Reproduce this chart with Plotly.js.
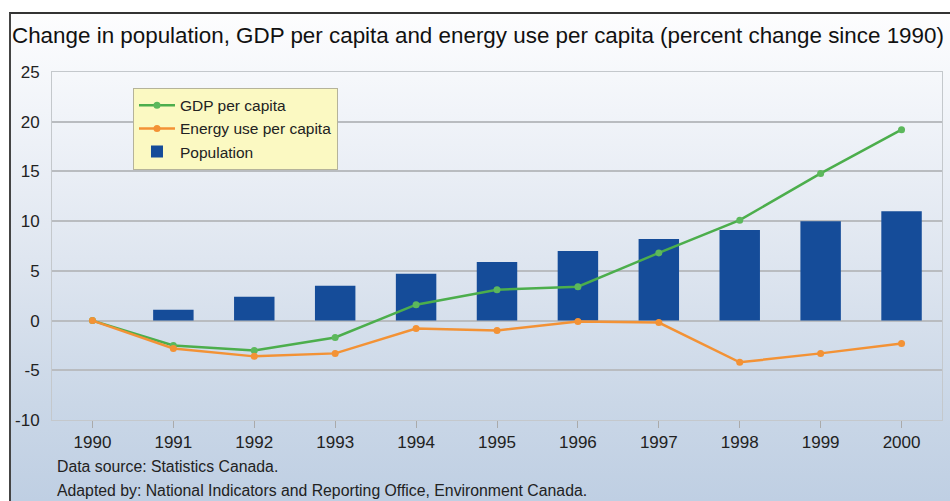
<!DOCTYPE html>
<html>
<head>
<meta charset="utf-8">
<script src="https://cdn.plot.ly/plotly-3.0.1.min.js"></script>
<style>
  html, body { margin: 0; padding: 0; background: #ffffff; }
  #wrap { position: relative; width: 950px; height: 501px; overflow: hidden; background: #ffffff; }
  #bg { position: absolute; left: 9px; top: 12px; width: 941px; height: 489px;
        border-top: 2px solid #333; border-left: 2px solid #444; box-sizing: border-box;
        background: linear-gradient(to bottom, #fdfdfe 0%, #f1f4f9 20%, #dfe6f0 50%, #cad7e7 80%, #bfcfe3 100%); }
  #chart { position: absolute; left: 0; top: 0; width: 950px; height: 501px; }
</style>
</head>
<body>
<div id="wrap">
  <div id="bg"></div>
  <div id="chart"></div>
</div>
<script>
const years = ["1990","1991","1992","1993","1994","1995","1996","1997","1998","1999","2000"];
const population = [0, 1.1, 2.4, 3.5, 4.7, 5.9, 7.0, 8.2, 9.1, 10.0, 11.0];
const gdpPerCapita = [0, -2.5, -3.0, -1.7, 1.6, 3.1, 3.4, 6.8, 10.1, 14.8, 19.2];
const energyPerCapita = [0, -2.8, -3.6, -3.3, -0.8, -1.0, -0.1, -0.2, -4.2, -3.3, -2.3];
const yTicks = [-10, -5, 0, 5, 10, 15, 20, 25];

const FONT = '"Liberation Sans", Arial, sans-serif';

const traces = [
  {
    type: 'bar', name: 'Population', x: years, y: population,
    marker: { color: '#154c99' }, width: 0.5, legendrank: 3
  },
  {
    type: 'scatter', mode: 'lines+markers', name: 'GDP per capita', x: years, y: gdpPerCapita,
    line: { color: '#4cae4c', width: 2.5 }, marker: { color: '#5cb85c', size: 7 }, legendrank: 1
  },
  {
    type: 'scatter', mode: 'lines+markers', name: 'Energy use per capita', x: years, y: energyPerCapita,
    line: { color: '#f39235', width: 2.5 }, marker: { color: '#f39235', size: 7 }, legendrank: 2
  }
];

const layout = {
  width: 950, height: 501,
  paper_bgcolor: 'rgba(0,0,0,0)', plot_bgcolor: 'rgba(0,0,0,0)',
  margin: { l: 52, r: 8, t: 72, b: 81 },
  font: { family: FONT, size: 16, color: '#222' },
  title: {
    text: 'Change in population, GDP per capita and energy use per capita (percent change since 1990)',
    font: { family: FONT, size: 22.4, color: '#111' },
    xref: 'container', x: 12 / 950, xanchor: 'left',
    yref: 'container', y: 1 - 35 / 501, yanchor: 'middle'
  },
  showlegend: true,
  legend: {
    x: 0.091, y: 0.955, xanchor: 'left', yanchor: 'top',
    bgcolor: '#fbf9c2', bordercolor: '#b5b39a', borderwidth: 1,
    font: { family: FONT, size: 15.5, color: '#222' },
    tracegroupgap: 0, itemwidth: 36
  },
  xaxis: {
    type: 'category', range: [-0.5, 10.5],
    showgrid: false, showline: true, mirror: true, linecolor: '#c4c8cc', linewidth: 1,
    ticks: 'outside', ticklen: 7, tickcolor: '#aaaaaa',
    tickfont: { family: FONT, size: 17, color: '#222' }
  },
  yaxis: {
    range: [-10, 25], tickvals: yTicks, ticktext: yTicks.map(String),
    showgrid: true, gridcolor: '#b9bcc0', gridwidth: 2,
    zeroline: true, zerolinecolor: '#b9bcc0', zerolinewidth: 2,
    showline: true, mirror: true, linecolor: '#c4c8cc', linewidth: 1,
    ticks: '', ticklabelstandoff: 8,
    tickfont: { family: FONT, size: 17, color: '#222' }
  },
  bargap: 0.5,
  annotations: [
    { text: 'Data source: Statistics Canada.', xref: 'paper', yref: 'paper',
      x: 0.003, y: -0.135, xanchor: 'left', yanchor: 'middle', showarrow: false,
      font: { family: FONT, size: 15.8, color: '#222' } },
    { text: 'Adapted by: National Indicators and Reporting Office, Environment Canada.', xref: 'paper', yref: 'paper',
      x: 0.003, y: -0.204, xanchor: 'left', yanchor: 'middle', showarrow: false,
      font: { family: FONT, size: 15.8, color: '#222' } }
  ]
};

Plotly.newPlot('chart', traces, layout, { displayModeBar: false, staticPlot: true });
</script>
</body>
</html>
